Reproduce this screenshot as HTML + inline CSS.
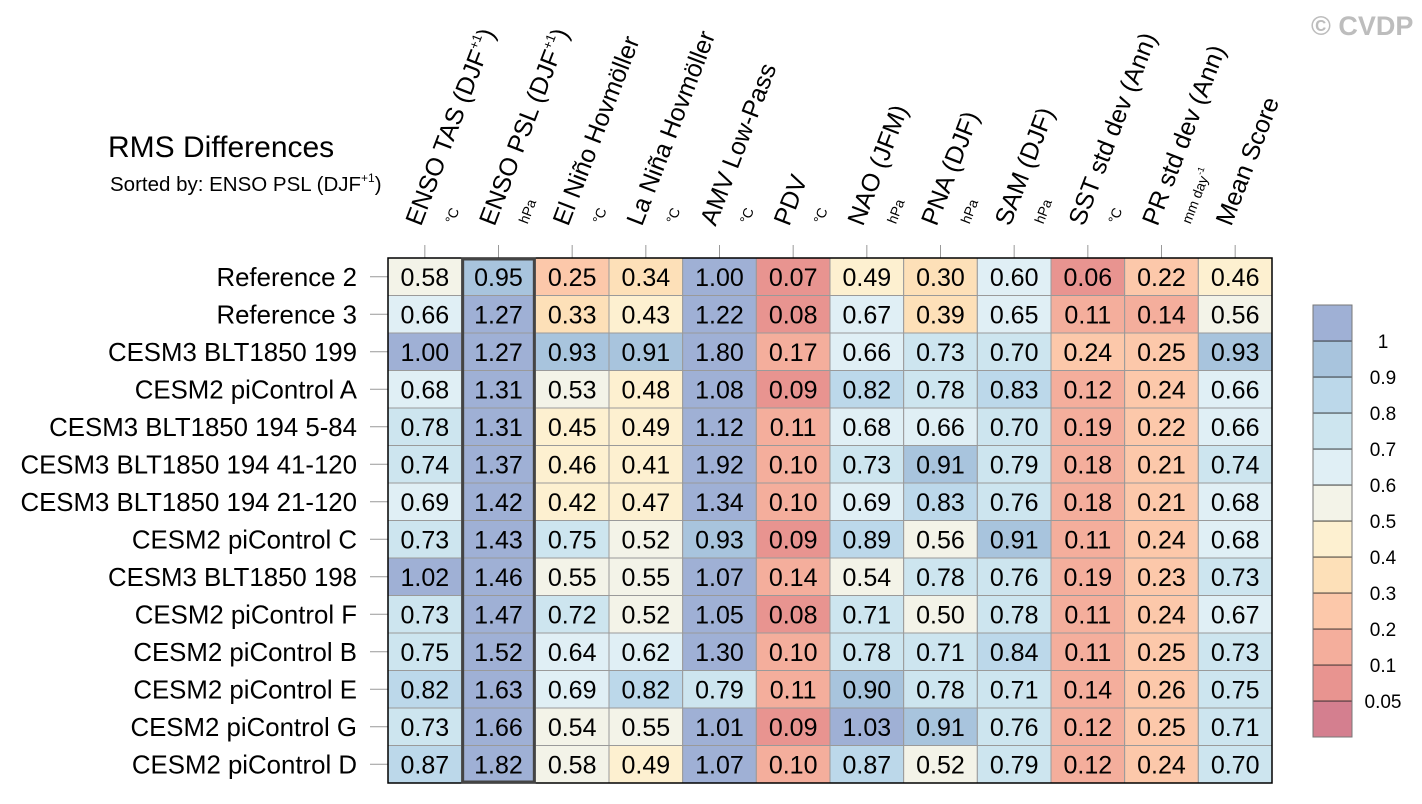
<!DOCTYPE html>
<html><head><meta charset="utf-8"><style>
html,body{margin:0;padding:0;background:#fff;}
svg{display:block;font-family:"Liberation Sans",Arial,sans-serif;}
</style></head><body>
<svg id="chart" width="1422" height="804" viewBox="0 0 1422 804">
<text x="1311" y="35" font-size="27" font-weight="bold" fill="#bdbdbd">© CVDP</text>
<text x="108" y="157" font-size="30" fill="#000">RMS Differences</text>
<text x="110" y="191" font-size="20.5" fill="#000">Sorted by: ENSO PSL (DJF<tspan font-size="12" dy="-9">+1</tspan><tspan dy="9">)</tspan></text>
<g id="headers"></g>
<g id="rowlabels"></g>
<g id="cells"></g>
<g id="colorbar"></g>
</svg>
<script>
const rowNames = ["Reference 2","Reference 3","CESM3 BLT1850 199","CESM2 piControl A","CESM3 BLT1850 194 5-84","CESM3 BLT1850 194 41-120","CESM3 BLT1850 194 21-120","CESM2 piControl C","CESM3 BLT1850 198","CESM2 piControl F","CESM2 piControl B","CESM2 piControl E","CESM2 piControl G","CESM2 piControl D"];
const colNames = ["ENSO TAS (DJF","ENSO PSL (DJF","El Niño Hovmöller","La Niña Hovmöller","AMV Low-Pass","PDV","NAO (JFM)","PNA (DJF)","SAM (DJF)","SST std dev (Ann)","PR std dev (Ann)","Mean Score"];
const colSup = ["+1","+1","","","","","","","","","",""];
const colUnits = ["°C","hPa","°C","°C","°C","°C","hPa","hPa","hPa","°C","mm day-1",""];
const values = [
[0.58,0.95,0.25,0.34,1.00,0.07,0.49,0.30,0.60,0.06,0.22,0.46],
[0.66,1.27,0.33,0.43,1.22,0.08,0.67,0.39,0.65,0.11,0.14,0.56],
[1.00,1.27,0.93,0.91,1.80,0.17,0.66,0.73,0.70,0.24,0.25,0.93],
[0.68,1.31,0.53,0.48,1.08,0.09,0.82,0.78,0.83,0.12,0.24,0.66],
[0.78,1.31,0.45,0.49,1.12,0.11,0.68,0.66,0.70,0.19,0.22,0.66],
[0.74,1.37,0.46,0.41,1.92,0.10,0.73,0.91,0.79,0.18,0.21,0.74],
[0.69,1.42,0.42,0.47,1.34,0.10,0.69,0.83,0.76,0.18,0.21,0.68],
[0.73,1.43,0.75,0.52,0.93,0.09,0.89,0.56,0.91,0.11,0.24,0.68],
[1.02,1.46,0.55,0.55,1.07,0.14,0.54,0.78,0.76,0.19,0.23,0.73],
[0.73,1.47,0.72,0.52,1.05,0.08,0.71,0.50,0.78,0.11,0.24,0.67],
[0.75,1.52,0.64,0.62,1.30,0.10,0.78,0.71,0.84,0.11,0.25,0.73],
[0.82,1.63,0.69,0.82,0.79,0.11,0.90,0.78,0.71,0.14,0.26,0.75],
[0.73,1.66,0.54,0.55,1.01,0.09,1.03,0.91,0.76,0.12,0.25,0.71],
[0.87,1.82,0.58,0.49,1.07,0.10,0.87,0.52,0.79,0.12,0.24,0.70]];
const levels = [0.05,0.1,0.2,0.3,0.4,0.5,0.6,0.7,0.8,0.9,1];
const levelLabels = ["0.05","0.1","0.2","0.3","0.4","0.5","0.6","0.7","0.8","0.9","1"];
const palette = ["#d47f8f","#e89490","#f4ae9c","#fcc8aa","#fde0b8","#fdf0d0","#f3f3e8","#e0eff5","#cde5ef","#bcd8ea","#a8c4dd","#9fb0d5"];
const sortedCol = 1;

const NS="http://www.w3.org/2000/svg";
const X0=388, X1=1272, Y0=258, Y1=783;
const cw=(X1-X0)/colNames.length, rh=(Y1-Y0)/rowNames.length;
const xc=i=>X0+cw*(i+0.5), yc=j=>Y0+rh*(j+0.5);
function colorFor(v){let k=0;while(k<levels.length&&v>=levels[k]-1e-9)k++;return palette[k];}
function mk(tag,attrs,parent){const e=document.createElementNS(NS,tag);for(const a in attrs)e.setAttribute(a,attrs[a]);parent.appendChild(e);return e;}

const gh=document.getElementById('headers');
colNames.forEach((n,i)=>{
  const cx=xc(i);
  const tk=mk('line',{x1:cx,y1:245,x2:cx,y2:Y0,stroke:'#999','stroke-width':1},gh);
  
  
  const g=mk('g',{transform:`translate(${cx-4},227) rotate(-69)`},gh);
  
  
  const t=mk('text',{x:0,y:0,'font-size':25,fill:'#000'},g);
  t.textContent=n;
  if(colSup[i]){
    const s=mk('tspan',{'font-size':13,dy:-11},t);s.textContent=colSup[i];
    const c=mk('tspan',{dy:11},t);c.textContent=')';
  }
  if(colUnits[i]){
    const u=mk('text',{x:14,y:30,'font-size':14,fill:'#000'},g);
    if(colUnits[i]==='mm day-1'){u.textContent='mm day';const s=mk('tspan',{'font-size':9,dy:-7},u);s.textContent='-1';}
    else u.textContent=colUnits[i];
  }
});

const gr=document.getElementById('rowlabels');
rowNames.forEach((n,j)=>{
  const y=yc(j);
  const tk=mk('line',{x1:370,y1:y,x2:X0,y2:y,stroke:'#999','stroke-width':1},gr);
  
  
  const t=mk('text',{x:357,y:y+9,'font-size':25.8,'text-anchor':'end',fill:'#000'},gr);
  
  
  t.textContent=n;
});

const gc=document.getElementById('cells');
values.forEach((row,j)=>row.forEach((v,i)=>{
  const r=mk('rect',{x:X0+cw*i,y:Y0+rh*j,width:cw,height:rh,fill:colorFor(v),stroke:'#9a9a9a','stroke-width':1},gc);
  
  
  const t=mk('text',{x:xc(i),y:yc(j)+9,'font-size':25,'text-anchor':'middle',fill:'#000'},gc);
  
  
  t.textContent=v.toFixed(2);
}));
const fr=mk('rect',{x:X0,y:Y0,width:X1-X0,height:Y1-Y0,fill:'none',stroke:'#000','stroke-width':1.5},gc);


const hl=mk('rect',{x:X0+cw*sortedCol+1,y:Y0+1,width:cw-2,height:Y1-Y0-2,fill:'none',stroke:'#444','stroke-width':3},gc);



const gb=document.getElementById('colorbar');
const CB_X=1313, CB_W=39, CB_TOP=305, CB_H=36;
const n=palette.length;
palette.forEach((c,k)=>{
  const y=CB_TOP+CB_H*(n-1-k);
  const r=mk('rect',{x:CB_X,y:y,width:CB_W,height:CB_H,fill:c,stroke:'#222','stroke-width':0.8},gb);
  
  
});
const cbf=mk('rect',{x:CB_X,y:CB_TOP,width:CB_W,height:CB_H*n,fill:'none',stroke:'#777','stroke-width':1},gb);


levelLabels.forEach((l,k)=>{
  const y=CB_TOP+CB_H*(n-1-k);
  const t=mk('text',{x:1383,y:y+7,'font-size':19,'text-anchor':'middle',fill:'#000'},gb);
  
  
  t.textContent=l;
});
</script>
</body></html>
